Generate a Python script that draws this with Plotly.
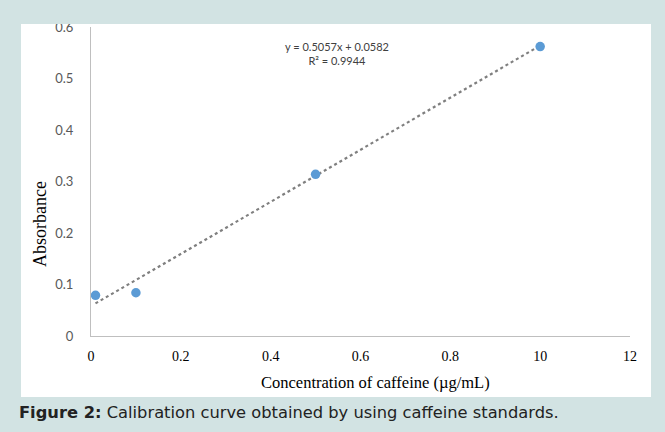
import plotly.graph_objects as go

# ---- data ----
concentration = [0.01, 0.1, 0.5, 1.0]
absorbance = [0.079, 0.084, 0.314, 0.562]
trend_slope = 0.5057
trend_intercept = 0.0582
x_tick_vals = [0, 0.2, 0.4, 0.6, 0.8, 1.0, 1.2]
x_tick_text = ["0", "0.2", "0.4", "0.6", "0.8", "10", "12"]
y_tick_vals = [0, 0.1, 0.2, 0.3, 0.4, 0.5, 0.6]
y_tick_text = ["0", "0.1", "0.2", "0.3", "0.4", "0.5", "0.6"]
x_title = "Concentration of caffeine (µg/mL)"
y_title = "Absorbance"
equation_text = "y = 0.5057x + 0.0582<br>R² = 0.9944"
caption_text = "<b>Figure 2:</b> Calibration curve obtained by using caffeine standards."

trend_x = [min(concentration), max(concentration)]
trend_y = [trend_slope * x + trend_intercept for x in trend_x]

W, H = 665, 432
L, R, T, B = 91, 35, 27, 96
pw, ph = W - L - R, H - T - B


def px(x):
    return (x - L) / pw


def py(y):
    return (H - B - y) / ph


teal = "#d2e3e3"

fig = go.Figure()
fig.add_trace(go.Scatter(
    x=trend_x, y=trend_y, mode="lines",
    line=dict(color="#7f7f7f", width=2.2, dash="dot"),
    hoverinfo="skip", showlegend=False))
fig.add_trace(go.Scatter(
    x=concentration, y=absorbance, mode="markers",
    marker=dict(color="#5b9bd5", size=9.5),
    showlegend=False, cliponaxis=False))

fig.update_layout(
    width=W, height=H,
    margin=dict(l=L, r=R, t=T, b=B),
    paper_bgcolor=teal,
    plot_bgcolor="white",
    showlegend=False,
    xaxis=dict(
        range=[0, 1.2], tickvals=x_tick_vals, ticktext=x_tick_text,
        showgrid=False, zeroline=False, showline=True,
        linecolor="#bfbfbf", linewidth=1, ticks="",
        ticklabelstandoff=7,
        tickfont=dict(family="Liberation Serif", size=14, color="#000000"),
    ),
    yaxis=dict(
        range=[0, 0.6], tickvals=y_tick_vals, ticktext=y_tick_text,
        showgrid=False, zeroline=False, showline=True,
        linecolor="#bfbfbf", linewidth=1, ticks="",
        ticklabelstandoff=14,
        tickfont=dict(family="Lato", size=13, color="#595959"),
    ),
    shapes=[
        # white chart panel
        dict(type="rect", xref="paper", yref="paper", layer="below",
             x0=px(21), x1=px(651), y0=py(397), y1=py(23),
             fillcolor="white", line=dict(width=0)),
        # teal strip above panel (clips top of the 0.6 label)
        dict(type="rect", xref="paper", yref="paper", layer="above",
             x0=px(0), x1=px(W), y0=py(24), y1=py(0),
             fillcolor=teal, line=dict(width=0)),
    ],
    annotations=[
        dict(text=equation_text, xref="paper", yref="paper",
             x=px(337), y=py(53), xanchor="center", yanchor="middle",
             showarrow=False, align="center",
             font=dict(family="Lato", size=11, color="#404040")),
        dict(text=x_title, xref="paper", yref="paper",
             x=px(375), y=py(382), xanchor="center", yanchor="middle",
             showarrow=False,
             font=dict(family="Liberation Serif", size=16.5, color="#000000")),
        dict(text=y_title, xref="paper", yref="paper", textangle=-90,
             x=px(40), y=py(224), xanchor="center", yanchor="middle",
             showarrow=False,
             font=dict(family="Liberation Serif", size=18, color="#000000")),
        dict(text=caption_text, xref="paper", yref="paper",
             x=px(17), y=py(412), xanchor="left", yanchor="middle",
             showarrow=False, align="left",
             font=dict(family="DejaVu Sans", size=16.3, color="#222222")),
    ],
)

fig.write_html(
    "out.html",
    config={"displayModeBar": False},
    post_script="document.body.style.margin='0';document.body.style.overflow='hidden';",
)
